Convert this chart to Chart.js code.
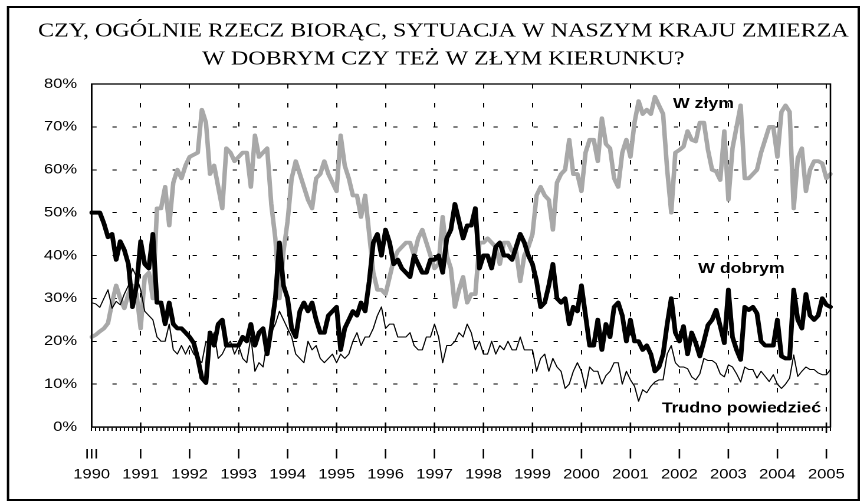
<!DOCTYPE html>
<html lang="pl">
<head>
<meta charset="utf-8">
<title>Kierunek zmian w kraju 1990-2005</title>
<script src="https://cdn.jsdelivr.net/npm/chart.js@4.4.1/dist/chart.umd.min.js"></script>
<style>
  html, body { margin: 0; padding: 0; background: #fff; }
  canvas { display: block; }
</style>
</head>
<body>
<!-- drawn narrower and stretched sideways, like the original picture -->
<canvas id="chart" width="735" height="501" style="width:867px;height:501px"></canvas>
<script>
// Years on the axis; 1990 starts with March, every year has 12 points, 2005 only two
const YEARS = [1990, 1991, 1992, 1993, 1994, 1995, 1996, 1997, 1998, 1999, 2000, 2001, 2002, 2003, 2004, 2005];
const YEAR_MARKS = ['III', 'I', 'I', 'I', 'I', 'I', 'I', 'I', 'I', 'I', 'I', 'I', 'I', 'I', 'I', 'I'];
const POINTS_2005 = 2;

// "W dobrym" (%)
const W_DOBRYM = [
  50, 50, 50, 47.5, 44.3, 45, 39, 43.3, 41.3, 38, 28, 33,         // 1990
  43.3, 38, 37, 45, 29, 29, 24, 29, 24, 23, 23, 22,               // 1991
  21, 19.6, 16, 11.4, 10.3, 22, 19, 24, 25, 19, 19, 19,           // 1992
  19, 21, 20, 24, 19, 22, 23, 17, 23, 30, 43, 33,                 // 1993
  30, 23, 21, 27, 29, 27, 29, 25, 22, 22, 26, 27,                 // 1994
  28, 18, 23, 25, 27, 26, 29, 27, 34, 43, 45, 40,                 // 1995
  46, 43, 38, 39, 37, 36, 35, 40, 38, 36, 36, 39,                 // 1996
  39, 40, 36, 44, 46, 52, 48, 44, 47, 47, 51, 37,                 // 1997
  40, 40, 37, 42, 43, 40, 40, 39, 42, 45, 43, 40,                 // 1998
  38, 34, 28, 29, 33, 38, 30, 29, 30, 24, 28, 27,                 // 1999
  33, 26, 19, 19, 25, 18, 24, 21, 28, 29, 26, 20,                 // 2000
  25, 20, 20, 18, 19, 17, 13, 14, 17, 24, 30, 22,                 // 2001
  20, 23.5, 17, 22, 19.6, 16.5, 20, 23.8, 25, 27.3, 23.5, 19.6,   // 2002
  32, 21, 18, 15.7, 28, 27.3, 28, 26.5, 20, 19, 19, 19,           // 2003
  25, 16.5, 16, 16, 32, 25, 23, 31, 26, 25, 26, 30,               // 2004
  28.5, 28                                                        // 2005
];

// "W złym" (%)
const W_ZLYM = [
  21, 21.5, 22.3, 23, 24.2, 29, 33, 30, 27.7, 31, 33, 31,         // 1990
  23, 35, 36, 30, 51, 51, 56, 47, 57, 60, 58, 61,                 // 1991
  63, 63.5, 64, 74, 71, 59, 61, 56, 51, 65, 64, 62,               // 1992
  63, 64, 64, 56, 68, 63, 64, 65, 52, 44, 30, 41,                 // 1993
  48, 58, 62, 59, 56, 53, 51, 58, 59, 62, 59, 57,                 // 1994
  55, 68, 61, 58, 54, 54, 49, 54, 45, 36, 32, 32,                 // 1995
  31, 35, 39, 41, 42, 43, 43, 40, 44, 46, 43, 40,                 // 1996
  37, 38, 49, 40, 37, 28, 32, 35, 29, 31, 31, 43,                 // 1997
  43, 44, 43, 42, 38, 43, 43, 41, 41, 34, 40, 42,                 // 1998
  45, 54, 56, 54, 53, 46, 57, 59, 60, 67, 59, 59,                 // 1999
  55, 64, 67, 67, 62, 72, 66, 65, 58, 56, 64, 67,                 // 2000
  63, 71, 76, 73, 74, 73, 77, 75, 73, 60, 50, 64,                 // 2001
  64.6, 65.4, 69, 67, 66.6, 71, 71, 64.6, 60, 59.6, 57.6, 69,     // 2002
  53, 65, 70, 75, 58, 58, 59, 60, 64, 67, 70, 70,                 // 2003
  63, 73.5, 75, 73.5, 51, 62.7, 65, 55, 60, 62, 62, 61.5,         // 2004
  58, 59                                                          // 2005
];

// "Trudno powiedzieć" (%)
const TRUDNO = [
  29, 28.7, 27.9, 30, 32, 27.7, 29.3, 28.5, 31, 33, 37, 35,       // 1990
  32, 27, 26, 25, 21, 20, 20, 24, 18, 17, 19, 17,                 // 1991
  19, 17, 16, 15, 20, 19, 22, 16, 17, 19, 20, 17,                 // 1992
  19, 16, 15, 21, 13, 15, 14, 20, 22, 24, 27, 25,                 // 1993
  23, 21, 17, 16, 15, 20, 18, 19, 16, 15, 16, 17,                 // 1994
  15, 17, 16, 17, 20, 22, 19, 21, 21, 23, 26, 28,                 // 1995
  23, 24, 24, 21, 21, 21, 22, 19, 18, 18, 21, 21,                 // 1996
  24, 21, 15, 19, 19, 20, 22, 21, 24, 22, 18, 20,                 // 1997
  17, 17, 20, 17, 19, 18, 20, 18, 18, 21, 18, 18,                 // 1998
  18, 13, 16, 17, 13, 16, 14, 13, 9, 10, 13, 15,                  // 1999
  13, 9, 14, 13, 13, 10, 12, 13, 15, 15, 10, 13,                  // 2000
  11, 9.5, 6, 8.7, 8, 9.5, 10.5, 11, 11, 17, 19, 15,              // 2001
  14, 14, 13.6, 11.7, 11, 12.4, 16, 15.5, 15.5, 14.8, 12.4, 11.7, // 2002
  14.5, 14, 12.4, 10.5, 14, 13.4, 13.4, 11.4, 13, 11.8, 10.6, 12.2, // 2003
  10, 9, 10, 11.4, 16.8, 11.8, 13, 14, 13.4, 13.4, 12.6, 12.2,    // 2004
  12.2, 13.4                                                      // 2005
];

const Y_MIN = 0;
const Y_MAX = 80;
const Y_STEP = 10;

const TITLE = [
  'CZY, OGÓLNIE RZECZ BIORĄC, SYTUACJA W NASZYM KRAJU ZMIERZA',
  'W DOBRYM CZY TEŻ W ZŁYM KIERUNKU?'
];

// one category per survey point
const categories = [];
YEARS.forEach((year, i) => {
  const n = i === YEARS.length - 1 ? POINTS_2005 : 12;
  for (let k = 0; k < n; k++) categories.push(year + '/' + (k + 1));
});

const SANS = '"Liberation Sans", Arial, Helvetica, sans-serif';
const SERIF = '"Liberation Serif", "Times New Roman", Times, serif';

Chart.defaults.font.family = SANS;
Chart.defaults.color = '#000';

// names written next to the lines, placed in data units
const seriesNames = {
  id: 'seriesNames',
  afterDatasetsDraw(chart) {
    const { ctx, scales: { x, y } } = chart;
    ctx.save();
    ctx.font = 'bold 15px ' + SANS;
    ctx.fillStyle = '#000';
    ctx.textAlign = 'center';
    ctx.textBaseline = 'middle';
    [['W złym', 149.9, 75.4], ['W dobrym', 159.2, 36.9], ['Trudno powiedzieć', 159.2, 4.3]]
      .forEach(([text, i, v]) => ctx.fillText(text, x.getPixelForValue(i), y.getPixelForValue(v)));
    ctx.restore();
  }
};

// plot box, longer year ticks and the outer frame
const frames = {
  id: 'frames',
  afterDraw(chart) {
    const { ctx, chartArea: a, scales: { x } } = chart;
    ctx.save();
    ctx.strokeStyle = '#000';
    ctx.lineWidth = 1.3;
    ctx.beginPath();
    for (let i = 12; i < categories.length; i += 12) {
      const px = x.getPixelForValue(i);
      ctx.moveTo(px, a.bottom - 4.5);
      ctx.lineTo(px, a.bottom + 6);
    }
    ctx.stroke();
    ctx.strokeRect(a.left, a.top, a.right - a.left, a.bottom - a.top);
    ctx.lineWidth = 2;
    ctx.strokeRect(6.8, 7, 721.2, 493);
    ctx.restore();
  }
};

new Chart(document.getElementById('chart'), {
  type: 'line',
  data: {
    labels: categories,
    datasets: [
      { label: 'W dobrym', data: W_DOBRYM, borderColor: '#000', borderWidth: 4, order: 0 },
      { label: 'Trudno powiedzieć', data: TRUDNO, borderColor: '#000', borderWidth: 1, order: 1 },
      { label: 'W złym', data: W_ZLYM, borderColor: '#a8a8a8', borderWidth: 3.8, order: 2 }
    ]
  },
  options: {
    responsive: false,
    devicePixelRatio: 2,
    animation: false,
    layout: { padding: { left: 17.7, right: 1, top: 0, bottom: 0 } },
    elements: {
      point: { radius: 0 },
      line: { tension: 0, fill: false, borderJoinStyle: 'round', borderCapStyle: 'round' }
    },
    plugins: {
      legend: { display: false },
      tooltip: { enabled: false },
      title: {
        display: true,
        text: TITLE,
        color: '#000',
        font: { family: SERIF, size: 20.4, weight: 'normal', lineHeight: 28 / 20.4 },
        padding: { top: 17, bottom: 11 }
      }
    },
    scales: {
      x: {
        type: 'category',
        afterFit(scale) { scale.height = 74; },
        grid: {
          color: ctx => ctx.index % 12 === 0 ? '#000' : 'rgba(0,0,0,0)',
          lineWidth: 1,
          tickColor: '#000',
          tickWidth: 1,
          tickLength: 4,
          tickBorderDash: []
        },
        border: { display: true, color: '#000', width: 1.3, dash: [4.5, 14.5] },
        ticks: {
          autoSkip: false,
          maxRotation: 0,
          minRotation: 0,
          padding: 13.7,
          font: { size: 14, lineHeight: 20 / 14 },
          callback: (value, index) => index % 12 === 0 ? [YEAR_MARKS[index / 12], String(YEARS[index / 12])] : ''
        }
      },
      y: {
        min: Y_MIN,
        max: Y_MAX,
        afterFit(scale) { scale.width = 60; },
        grid: { color: '#000', lineWidth: 1, drawTicks: false },
        border: { display: true, color: '#000', width: 1.3, dash: [3.6, 13.4] },
        ticks: {
          stepSize: Y_STEP,
          padding: 12.4,
          font: { size: 14 },
          callback: v => v + '%'
        }
      },
      // empty margin on the right so the plot keeps its width
      yRight: {
        position: 'right',
        min: Y_MIN,
        max: Y_MAX,
        afterFit(scale) { scale.width = 30; },
        grid: { display: false },
        border: { display: false },
        ticks: { display: false }
      }
    }
  },
  plugins: [seriesNames, frames]
});
</script>
</body>
</html>
